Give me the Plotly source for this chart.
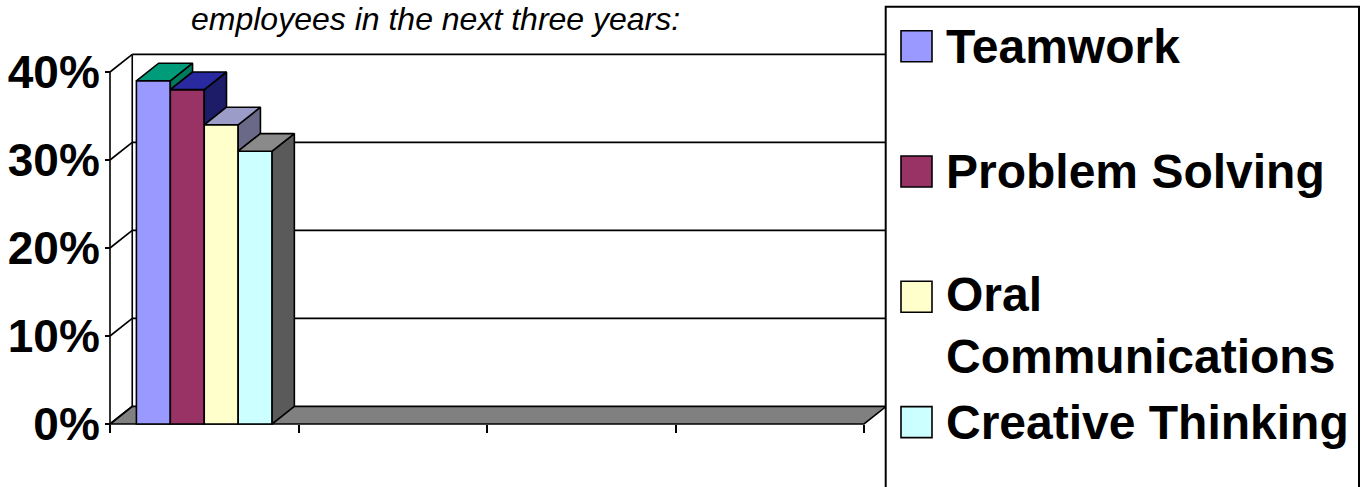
import plotly.graph_objects as go

# ---------------- data ----------------
series = ["Teamwork", "Problem Solving", "Oral Communications", "Creative Thinking"]
legend_labels = ["Teamwork", "Problem Solving", "Oral<br>Communications", "Creative Thinking"]
values = [39, 38, 34, 31]          # percent
category_slot = 0                   # the only filled category slot
n_slots = 4                         # category slots on the axis
y_ticks = [0, 10, 20, 30, 40]
y_tick_text = ["0%", "10%", "20%", "30%", "40%"]
title_text = "employees in the next three years:"

# ---------------- styles ----------------
front_colors = ["#9999FF", "#993366", "#FFFFCC", "#CCFFFF"]
top_colors = ["#009C7A", "#2A2AA0", "#9C9CC8", "#8A8A8A"]
side_colors = ["#007A5E", "#1C1C68", "#6A6A88", "#5A5A5A"]
floor_color = "#808080"
FONT = "Liberation Sans, Arial, sans-serif"

W, H = 1363, 487
X0PX, XSCALE = 110.0, 188.5      # px of x=0, px per category slot
Y0PX, YSCALE = 424.0, 8.8        # px of y=0, px per percent
DX, DY = 0.118, 2.0              # depth offset in data units
BAR_W = 0.18
LW = 1.6

XR = [-0.03, n_slots + DX + 0.03]
YR = [-0.5, 42.5]


def pxx(x):
    return x / W


def pxy(y):
    return 1 - y / H


fig = go.Figure()

# front faces (bars)
center = category_slot + 0.5
n = len(series)
lefts = []
for i, (name, v) in enumerate(zip(series, values)):
    off = -BAR_W * n / 2 + i * BAR_W
    lefts.append(center + off)
    fig.add_trace(go.Bar(
        x=[center], y=[v], width=BAR_W, offset=off, name=name,
        marker=dict(color=front_colors[i], line=dict(color="black", width=LW)),
        showlegend=False, hoverinfo="name+y",
    ))

# side and top faces
for i, v in enumerate(values):
    xl = lefts[i]
    xr = xl + BAR_W
    lower = values[i + 1] if i + 1 < n else 0
    # side face (visible part)
    fig.add_trace(go.Scatter(
        x=[xr, xr, xr + DX, xr + DX, xr],
        y=[lower, v, v + DY, lower + DY, lower],
        mode="lines", fill="toself", fillcolor=side_colors[i],
        line=dict(color="black", width=LW), showlegend=False, hoverinfo="skip",
    ))
    # top face
    fig.add_trace(go.Scatter(
        x=[xl, xr, xr + DX, xl + DX, xl],
        y=[v, v, v + DY, v + DY, v],
        mode="lines", fill="toself", fillcolor=top_colors[i],
        line=dict(color="black", width=LW), showlegend=False, hoverinfo="skip",
    ))

shapes = []
line_k = dict(color="black", width=LW)
# floor
shapes.append(dict(
    type="path", xref="x", yref="y", layer="below",
    path=f"M 0,0 L {n_slots},0 L {n_slots + DX},{DY} L {DX},{DY} Z",
    fillcolor=floor_color, line=line_k,
))
# back wall gridlines and left wall diagonals
top = y_ticks[-1]
for t in y_ticks:
    if t > 0:
        shapes.append(dict(type="line", xref="x", yref="y", layer="below",
                           x0=DX, y0=t + DY, x1=n_slots + DX, y1=t + DY, line=line_k))
    shapes.append(dict(type="line", xref="x", yref="y", layer="below",
                       x0=0, y0=t, x1=DX, y1=t + DY, line=line_k))
# wall verticals
shapes.append(dict(type="line", xref="x", yref="y", layer="below",
                   x0=0, y0=0, x1=0, y1=top, line=line_k))
shapes.append(dict(type="line", xref="x", yref="y", layer="below",
                   x0=DX, y0=DY, x1=DX, y1=top + DY, line=line_k))
shapes.append(dict(type="line", xref="x", yref="y", layer="below",
                   x0=n_slots + DX, y0=DY, x1=n_slots + DX, y1=top + DY, line=line_k))

# legend box (drawn manually to match the large swatches)
annotations = []
shapes.append(dict(type="rect", xref="paper", yref="paper",
                   x0=pxx(885.7), x1=pxx(1359), y0=pxy(520), y1=pxy(6.7),
                   fillcolor="white", line=dict(color="black", width=2)))
LEG_TOP, LEG_STEP, SW = 30.7, 125.3, 31
for i, lab in enumerate(legend_labels):
    t = LEG_TOP + i * LEG_STEP
    shapes.append(dict(type="rect", xref="paper", yref="paper",
                       x0=pxx(901), x1=pxx(901 + SW), y0=pxy(t + SW), y1=pxy(t),
                       fillcolor=front_colors[i], line=dict(color="black", width=LW)))
    nlines = lab.count("<br>") + 1
    yc = t + SW / 2 + (nlines - 1) * 28.3
    annotations.append(dict(
        xref="paper", yref="paper", x=pxx(944), y=pxy(yc),
        xanchor="left", yanchor="middle", align="left", showarrow=False,
        text=lab, font=dict(family=FONT, size=48, color="black", weight="bold"),
    ))

# title (visible part)
annotations.append(dict(
    xref="paper", yref="paper", x=pxx(435.5), y=pxy(19),
    xanchor="center", yanchor="middle", showarrow=False,
    text=title_text, font=dict(family=FONT, size=32, color="black", style="italic"),
))

fig.update_layout(
    width=W, height=H, margin=dict(l=0, r=0, t=0, b=0, autoexpand=False),
    paper_bgcolor="white", plot_bgcolor="rgba(0,0,0,0)",
    barmode="overlay", showlegend=False,
    shapes=shapes, annotations=annotations,
    xaxis=dict(
        range=XR, domain=[pxx(X0PX + XR[0] * XSCALE), pxx(X0PX + XR[1] * XSCALE)],
        tickvals=list(range(n_slots + 1)), showticklabels=False,
        ticks="outside", ticklen=8, tickwidth=LW, tickcolor="black",
        showgrid=False, zeroline=False, showline=False, automargin=False,
        anchor="free", position=pxy(Y0PX),
    ),
    yaxis=dict(
        range=YR, domain=[pxy(Y0PX - YR[0] * YSCALE), pxy(Y0PX - YR[1] * YSCALE)],
        tickvals=y_ticks, ticktext=y_tick_text,
        ticks="outside", ticklen=5, tickwidth=LW, tickcolor="black",
        ticklabelstandoff=-4,
        tickfont=dict(family=FONT, size=46, color="black", weight="bold"),
        showgrid=False, zeroline=False, showline=False, automargin=False,
        anchor="free", position=pxx(X0PX),
    ),
)

fig.write_html("out.html")
